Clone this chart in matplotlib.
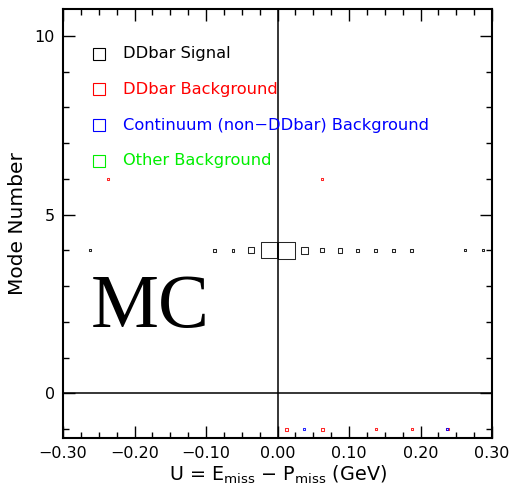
import numpy as np
import matplotlib
matplotlib.use('Agg')
import matplotlib.pyplot as plt
from matplotlib.ticker import MultipleLocator

# bin centres (GeV) and entries per bin, one row of boxes per mode
signal_x = [-0.2625, -0.0875, -0.0625, -0.0375, -0.0125, 0.0125, 0.0375,
            0.0625, 0.0875, 0.1125, 0.1375, 0.1625, 0.1875, 0.2625, 0.2875]
signal_mode = [4] * len(signal_x)
signal_n = [4, 9, 6, 36, 256, 289, 49, 16, 20, 9, 9, 6, 9, 4, 4]

ddbkg_x = [-0.2375, 0.0625, 0.0125, 0.0625, 0.1375, 0.1875, 0.2375]
ddbkg_mode = [6, 6, -1, -1, -1, -1, -1]
ddbkg_n = [4, 4, 9, 9, 4, 4, 6]

cont_x = [0.0375, 0.2375]
cont_mode = [-1, -1]
cont_n = [4, 4]

other_x = []
other_mode = []
other_n = []

labels = ['DDbar Signal', 'DDbar Background',
          'Continuum (non\u2212DDbar) Background', 'Other Background']
colors = ['black', '#ff0000', '#0000ff', '#00ee00']

fig = plt.figure(figsize=(5.14, 4.88), dpi=100)
ax = fig.add_axes([0.1226, 0.1025, 0.8346, 0.879])

# box side in points ~ sqrt(entries)
def box_area(n):
    return (0.72 * np.sqrt(np.array(n, dtype=float))) ** 2

series = [(signal_x, signal_mode, signal_n), (ddbkg_x, ddbkg_mode, ddbkg_n),
          (cont_x, cont_mode, cont_n), (other_x, other_mode, other_n)]
for (x, m, n), c in zip(series, colors):
    if len(x):
        ax.scatter(x, m, s=box_area(n), marker='s', facecolors='none',
                   edgecolors=c, linewidths=0.75, zorder=3, alpha=0.85)

# legend drawn by hand, IDL style
for i, (lab, c) in enumerate(zip(labels, colors)):
    yy = 9.5 - i
    ax.plot([-0.25], [yy], marker='s', ms=8.5, mfc='none', mec=c, mew=0.8,
            ls='none')
    ax.text(-0.2165, yy, lab, color=c, fontsize=11.7, va='center', ha='left')

ax.axvline(0, color='black', lw=1.1, zorder=1)
ax.axhline(0, color='black', lw=1.1, zorder=1)

ax.text(-0.2615, 1.85, 'MC', family='Liberation Serif', fontsize=55,
        ha='left', va='baseline')

ax.set_xlim(-0.30, 0.30)
ax.set_ylim(-1.25, 10.75)
ax.xaxis.set_major_locator(MultipleLocator(0.1))
ax.xaxis.set_minor_locator(MultipleLocator(0.025))
ax.yaxis.set_major_locator(MultipleLocator(5))
ax.yaxis.set_minor_locator(MultipleLocator(1))
ax.xaxis.set_major_formatter(plt.FuncFormatter(lambda v, p: f'{v:.2f}'.replace('-', '\u2212')))
ax.tick_params(which='both', direction='in', top=True, right=True,
               labelsize=11.5, width=1.0)
ax.tick_params(which='major', length=8.6, pad=6)
ax.tick_params(which='minor', length=4.3)
for sp in ax.spines.values():
    sp.set_linewidth(1.5)

ax.set_xlabel('U = E$_{\\rm miss}$ \u2212 P$_{\\rm miss}$ (GeV)', fontsize=13.8,
              labelpad=2)
ax.set_ylabel('Mode Number', fontsize=14.5, labelpad=5)

fig.savefig('out.png', dpi=100, facecolor='white')
